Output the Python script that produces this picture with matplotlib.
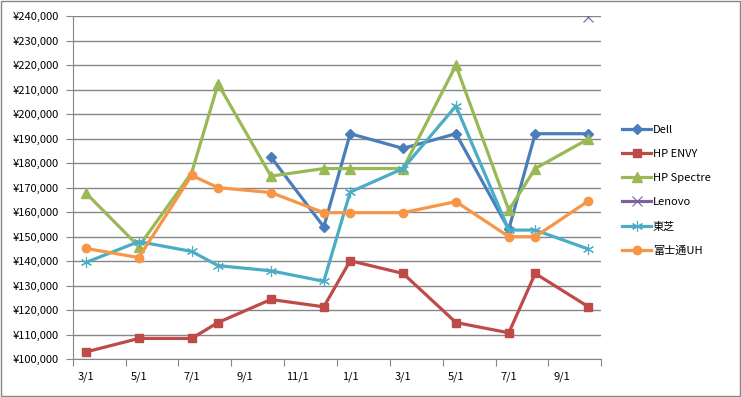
import numpy as np
import matplotlib.pyplot as plt
from matplotlib.patches import Rectangle

plt.rcParams['font.family'] = ['Noto Sans CJK JP', 'DejaVu Sans']

# データ (月インデックス: 0 = 3/1 から 19 = 翌年10/1)
month_labels = ['3/1', '5/1', '7/1', '9/1', '11/1', '1/1', '3/1', '5/1', '7/1', '9/1']
point_months = [0, 2, 4, 5, 7, 9, 10, 12, 14, 16, 17, 19]

dell = [None, None, None, None, 182500, 154000, 192000, 186000, 192000, 153000, 192000, 192000]
hp_envy = [103000, 108500, 108500, 115000, 124400, 121400, 140200, 135000, 115000, 110800, 135000, 121500]
hp_spectre = [167800, 146000, 176000, 212300, 174700, 177800, 177800, 177800, 219900, 160800, 177800, 189800]
lenovo = [None, None, None, None, None, None, None, None, None, None, None, 239500]
toshiba = [139500, 148000, 144000, 138200, 136100, 131800, 168200, 177800, 203300, 152700, 152700, 145000]
fujitsu = [145200, 141500, 175000, 170000, 168000, 159800, 159800, 159800, 164300, 150000, 150000, 164500]

series = [
    ('Dell', dell, '#4A7EBB', 'D', 5),
    ('HP ENVY', hp_envy, '#BE4B48', 's', 6),
    ('HP Spectre', hp_spectre, '#98B954', '^', 6.5),
    ('Lenovo', lenovo, '#7D60A0', 'x', 7),
    ('東芝', toshiba, '#4BACC6', (6, 2, 0), 8),
    ('富士通UH', fujitsu, '#F79646', 'o', 6),
]

fig = plt.figure(figsize=(7.41, 3.97), dpi=100)
ax = fig.add_axes([72.7 / 741, 1 - 359.3 / 397, (601.3 - 72.7) / 741, (359.3 - 16) / 397])

x = np.array(point_months) + 0.5
for name, vals, color, marker, ms in series:
    y = np.array([np.nan if v is None else v for v in vals], dtype=float)
    mew = 0.8 if marker in ('x', (6, 2, 0)) else 1
    ax.plot(x, y, color=color, lw=2.3, marker=marker, ms=ms, mew=mew,
            mec=color, mfc=color, label=name)

# 軸の設定
ax.set_xlim(0, 20)
ax.set_ylim(100000, 240000)
ax.set_yticks(np.arange(100000, 240001, 10000))
ax.set_yticklabels(['¥{:,}'.format(v) for v in range(100000, 240001, 10000)])
ax.set_xticks(np.arange(0, 21, 2))
ax.set_xticklabels([])
ax.set_xticks(np.arange(0, 20, 2) + 0.5, minor=True)
ax.set_xticklabels(month_labels, minor=True)
ax.tick_params(axis='x', which='minor', length=0, pad=9, labelsize=8)
ax.tick_params(axis='x', which='major', length=5, color='#868686', direction='out')
ax.tick_params(axis='y', length=5, color='#868686', labelsize=8, pad=5)

ax.grid(axis='y', color='#868686', lw=1)
ax.set_axisbelow(True)
for side in ['top', 'right']:
    ax.spines[side].set_visible(False)
for side in ['left', 'bottom']:
    ax.spines[side].set_color('#868686')

# 凡例
fig.legend(loc='upper left', bbox_to_anchor=(618 / 741, 1 - 120.5 / 397),
           frameon=False, fontsize=8, labelspacing=1.27, handlelength=2.6,
           handletextpad=0.15, borderaxespad=0)

# グラフの枠
fig.patches.append(Rectangle((0.001, 0.002), 0.997, 0.995, transform=fig.transFigure,
                             fill=False, edgecolor='#868686', lw=1))

fig.savefig('out.png', dpi=100)
